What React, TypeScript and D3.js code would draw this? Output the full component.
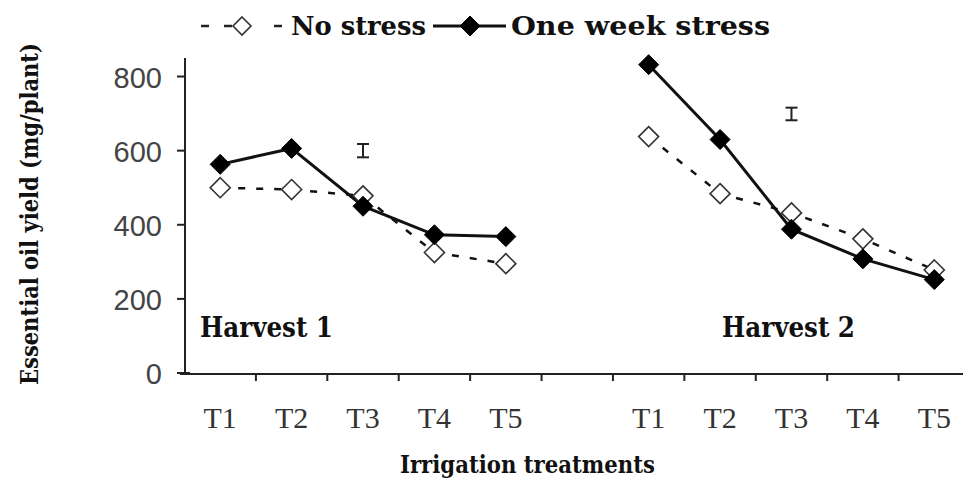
import React from "react";
import * as d3 from "d3";

const categories = ["H1-T1", "H1-T2", "H1-T3", "H1-T4", "H1-T5", "gap", "H2-T1", "H2-T2", "H2-T3", "H2-T4", "H2-T5"];
const tickLabels = ["T1", "T2", "T3", "T4", "T5", "", "T1", "T2", "T3", "T4", "T5"];
const harvest1Cats = ["H1-T1", "H1-T2", "H1-T3", "H1-T4", "H1-T5"];
const harvest2Cats = ["H2-T1", "H2-T2", "H2-T3", "H2-T4", "H2-T5"];
const noStressH1 = [500, 495, 478, 325, 295];
const stressH1 = [563, 606, 450, 373, 368];
const noStressH2 = [638, 484, 432, 362, 278];
const stressH2 = [832, 630, 388, 308, 252];
const errorBars = [
  { cat: "H1-T3", center: 600, half: 18 },
  { cat: "H2-T3", center: 699, half: 17 },
];
const yTicks = [0, 200, 400, 600, 800];

const W = 963;
const H = 483;
const slab = "'DejaVu Serif', 'Liberation Serif', serif";

export default function App() {
  const x = d3.scaleBand<string>().domain(categories).range([184.5, 970]).paddingInner(0).paddingOuter(0);
  const y = d3.scaleLinear().domain([0, 850]).range([373, 58]);
  const cx = (c: string) => (x(c) as number) + x.bandwidth() / 2;

  const line = d3
    .line<[string, number]>()
    .x((d) => cx(d[0]))
    .y((d) => y(d[1]));

  const zip = (cats: string[], vals: number[]) => cats.map((c, i) => [c, vals[i]] as [string, number]);

  const diamond = (px: number, py: number, filled: boolean, key: string, r = 10) => (
    <path
      key={key}
      d={`M${px},${py - r}L${px + r},${py}L${px},${py + r}L${px - r},${py}Z`}
      fill={filled ? "#000" : "#fff"}
      stroke={filled ? "#000" : "#333"}
      strokeWidth={filled ? 1 : 1.6}
    />
  );

  const series = [
    { cats: harvest1Cats, vals: noStressH1, filled: false },
    { cats: harvest2Cats, vals: noStressH2, filled: false },
    { cats: harvest1Cats, vals: stressH1, filled: true },
    { cats: harvest2Cats, vals: stressH2, filled: true },
  ];

  const boundaries = categories.map((c) => x(c) as number).slice(1);

  return (
    <div style={{ position: "absolute", left: 0, top: 0 }}>
      <svg width={W} height={H} style={{ display: "block", background: "#fff" }}>
        {/* Legend */}
        <g>
          <line x1={201} x2={209} y1={26} y2={26} stroke="#222" strokeWidth={2.5} />
          <line x1={224} x2={232} y1={26} y2={26} stroke="#222" strokeWidth={2.5} />
          <line x1={274} x2={282} y1={26} y2={26} stroke="#222" strokeWidth={2.5} />
          {diamond(242, 26, false, "lg1", 9)}
          <text x={291} y={35} fontFamily={slab} fontWeight="bold" fontSize={26} textLength={135} lengthAdjust="spacingAndGlyphs" fill="#111">
            No stress
          </text>
          <line x1={433} x2={506} y1={26} y2={26} stroke="#111" strokeWidth={3} />
          {diamond(470, 26, true, "lg2", 10)}
          <text x={511} y={35} fontFamily={slab} fontWeight="bold" fontSize={26} textLength={259} lengthAdjust="spacingAndGlyphs" fill="#111">
            One week stress
          </text>
        </g>

        {/* Y axis */}
        <line x1={185} x2={185} y1={58} y2={374} stroke="#222" strokeWidth={2} />
        {yTicks.map((t) => (
          <g key={t}>
            <line x1={177} x2={t === 0 ? 190 : 185} y1={y(t)} y2={y(t)} stroke="#222" strokeWidth={2} />
            <text x={162} y={y(t) + 11} textAnchor="end" fontFamily="'Liberation Sans', Arial, sans-serif" fontSize={29} fill="#444">
              {t}
            </text>
          </g>
        ))}

        {/* X axis */}
        <line x1={180} x2={963} y1={374} y2={374} stroke="#222" strokeWidth={2} />
        {boundaries.map((b, i) => (
          <line key={i} x1={b} x2={b} y1={374} y2={381} stroke="#222" strokeWidth={2} />
        ))}
        {categories.map((c, i) =>
          tickLabels[i] ? (
            <text key={c} x={cx(c)} y={428} textAnchor="middle" fontFamily="'Liberation Serif', serif" fontSize={30} fill="#333">
              {tickLabels[i]}
            </text>
          ) : null
        )}

        {/* Axis titles */}
        <text x={400} y={473} fontFamily={slab} fontWeight="bold" fontSize={25} textLength={255} lengthAdjust="spacingAndGlyphs" fill="#111">
          Irrigation treatments
        </text>
        <text
          transform="translate(38,214) rotate(-90)"
          textAnchor="middle"
          fontFamily={slab}
          fontWeight="bold"
          fontSize={24}
          textLength={342}
          lengthAdjust="spacingAndGlyphs"
          fill="#111"
        >
          Essential oil yield (mg/plant)
        </text>

        {/* Harvest labels */}
        <text x={200} y={337} fontFamily={slab} fontWeight="bold" fontSize={27} textLength={133} lengthAdjust="spacingAndGlyphs" fill="#111">
          Harvest 1
        </text>
        <text x={722} y={337} fontFamily={slab} fontWeight="bold" fontSize={27} textLength={133} lengthAdjust="spacingAndGlyphs" fill="#111">
          Harvest 2
        </text>

        {/* Lines */}
        {series.map((s, i) => (
          <path
            key={"l" + i}
            d={line(zip(s.cats, s.vals)) as string}
            fill="none"
            stroke="#111"
            strokeWidth={s.filled ? 3 : 2.5}
            strokeDasharray={s.filled ? undefined : "7,11"}
          />
        ))}

        {/* Markers */}
        {series.map((s, i) => s.cats.map((c, j) => diamond(cx(c), y(s.vals[j]), s.filled, `m${i}-${j}`)))}

        {/* Error bars */}
        {errorBars.map((e, i) => {
          const px = cx(e.cat);
          return (
            <g key={"e" + i} stroke="#222" strokeWidth={2}>
              <line x1={px} x2={px} y1={y(e.center + e.half)} y2={y(e.center - e.half)} />
              <line x1={px - 6} x2={px + 6} y1={y(e.center + e.half)} y2={y(e.center + e.half)} />
              <line x1={px - 6} x2={px + 6} y1={y(e.center - e.half)} y2={y(e.center - e.half)} />
            </g>
          );
        })}
      </svg>
    </div>
  );
}
